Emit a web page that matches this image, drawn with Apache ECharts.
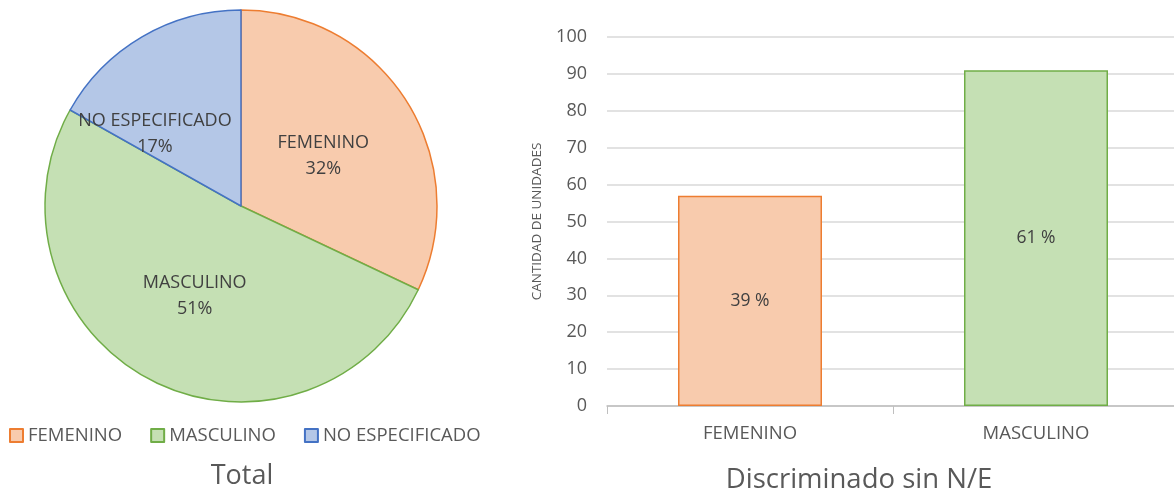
<!DOCTYPE html>
<html>
<head>
<meta charset="utf-8">
<script src="https://cdn.jsdelivr.net/npm/echarts@6/dist/echarts.min.js"></script>
<style>
	html, body { margin: 0; padding: 0; background: #fff; }
	#main { width: 1174px; height: 495px; }
</style>
</head>
<body>
<div id="main"></div>
<script>
//pie data (total)
var pieNames = ['FEMENINO', 'MASCULINO', 'NO ESPECIFICADO'];
var pieValues = [57, 91, 30];
//bar data (sin N/E)
var barNames = ['FEMENINO', 'MASCULINO'];
var barValues = [57, 91];
var yTicks = [0, 10, 20, 30, 40, 50, 60, 70, 80, 90, 100];

var fills = ['#F8CBAD', '#C5E0B4', '#B4C7E7'];
var borders = ['#ED7D31', '#70AD47', '#4472C4'];
var font = 'Open Sans';

var barTotal = barValues.reduce(function(a, b) { return a + b }, 0);

var chart = echarts.init(document.getElementById('main'));

var option = {
	backgroundColor: '#fff',
	textStyle: { fontFamily: font },
	title: [{
		text: 'Total',
		left: 237,
		textAlign: 'center',
		top: 458,
		textStyle: { fontFamily: font, fontSize: 27, fontWeight: 'normal', color: '#595959' }
	}, {
		text: 'Discriminado sin N/E',
		left: 854,
		textAlign: 'center',
		top: 461,
		textStyle: { fontFamily: font, fontSize: 27.5, fontWeight: 'normal', color: '#595959' }
	}],
	legend: {
		left: 9,
		top: 426,
		padding: 0,
		icon: 'rect',
		itemWidth: 13,
		itemHeight: 13,
		itemGap: 28,
		data: pieNames,
		textStyle: { fontFamily: font, fontSize: 18.5, color: '#595959' }
	},
	grid: {
		left: 607,
		top: 37,
		width: 858,
		height: 369,
		outerBoundsMode: 'none'
	},
	xAxis: {
		type: 'category',
		//empty 3rd slot: grid runs past the right edge like in the source
		data: barNames.concat(['']),
		axisLine: { lineStyle: { color: '#bfbfbf', width: 1.5 } },
		axisTick: { show: true, length: 8, lineStyle: { color: '#bfbfbf' } },
		axisLabel: { fontFamily: font, fontSize: 18.5, color: '#595959', margin: 18 },
		splitLine: { show: false }
	},
	yAxis: {
		type: 'value',
		min: yTicks[0],
		max: yTicks[yTicks.length - 1],
		interval: 10,
		name: 'CANTIDAD DE UNIDADES',
		nameLocation: 'middle',
		nameRotate: 90,
		nameGap: 63,
		nameTextStyle: { fontFamily: font, fontSize: 13.5, color: '#595959' },
		axisLine: { show: false },
		axisTick: { show: false },
		axisLabel: { fontFamily: font, fontSize: 18, color: '#595959', margin: 20 },
		splitLine: { lineStyle: { color: '#d9d9d9', width: 1.5 } }
	},
	series: [{
		name: 'Total',
		type: 'pie',
		center: [241, 206],
		radius: 196,
		startAngle: 90,
		clockwise: true,
		percentPrecision: 0,
		label: {
			show: true,
			position: 'inside',
			formatter: '{b}\n{d}%',
			fontFamily: font,
			fontSize: 18,
			lineHeight: 26,
			color: '#404040'
		},
		labelLine: { show: false },
		emphasis: { disabled: true },
		data: pieNames.map(function(n, i) {
			var d = {
				name: n,
				value: pieValues[i],
				itemStyle: { color: fills[i], borderColor: borders[i], borderWidth: 1.5 }
			};
			if(i == 0) {
				d.label = { offset: [-3, 4] };
			}
			if(i == 2) {
				d.label = { offset: [-35, 15] };
			}
			return d;
		})
	}, {
		name: 'barSer',
		type: 'bar',
		barWidth: 144,
		label: {
			show: true,
			position: 'inside',
			fontFamily: font,
			fontSize: 17.5,
			color: '#404040',
			formatter: function(d) {
				return Math.round(d.value / barTotal * 100) + ' %';
			}
		},
		emphasis: { disabled: true },
		data: barValues.map(function(v, i) {
			return {
				value: v,
				itemStyle: { color: fills[i], borderColor: borders[i], borderWidth: 1.5 }
			};
		})
	}]
};

chart.setOption(option);
</script>
</body>
</html>
